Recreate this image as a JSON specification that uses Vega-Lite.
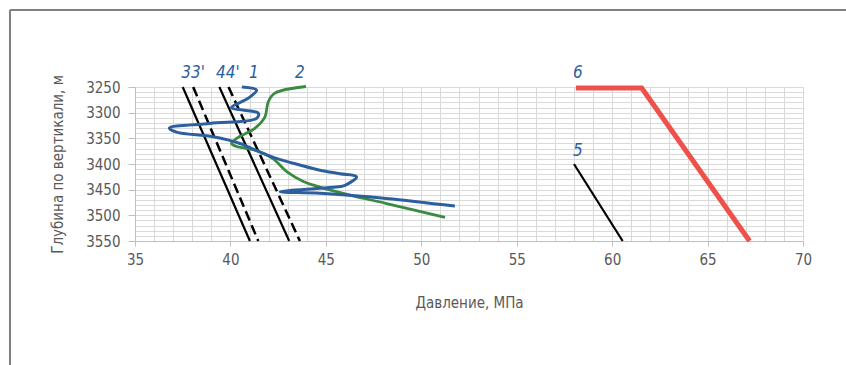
{
  "$schema": "https://vega.github.io/schema/vega-lite/v6.json",
  "width": 668,
  "height": 154,
  "autosize": {"type": "none"},
  "padding": {"left": 135, "top": 87, "right": 43, "bottom": 124},
  "background": "white",
  "config": {
    "view": {"stroke": null},
    "font": "DejaVu Sans Condensed, sans-serif",
    "axis": {
      "labelFont": "DejaVu Sans Condensed, sans-serif",
      "titleFont": "DejaVu Sans Condensed, sans-serif",
      "labelColor": "#595959",
      "titleColor": "#595959",
      "labelFontSize": 15,
      "titleFontSize": 15,
      "titleFontWeight": "normal",
      "labelOverlap": false,
      "labelFlush": false,
      "domainColor": "#bfbfbf",
      "tickColor": "#bfbfbf",
      "gridColor": "#d9d9d9",
      "gridWidth": 1
    }
  },
  "datasets": {
    "lines": [
      {"s": "3", "o": 1, "x": 37.5, "y": 3250},
      {"s": "3", "o": 2, "x": 41.02, "y": 3550},
      {"s": "3'", "o": 1, "x": 38.05, "y": 3250},
      {"s": "3'", "o": 2, "x": 41.46, "y": 3550},
      {"s": "4", "o": 1, "x": 39.42, "y": 3250},
      {"s": "4", "o": 2, "x": 43.08, "y": 3550},
      {"s": "4'", "o": 1, "x": 39.9, "y": 3250},
      {"s": "4'", "o": 2, "x": 43.64, "y": 3550},
      {"s": "5", "o": 1, "x": 58.0, "y": 3400},
      {"s": "5", "o": 2, "x": 60.55, "y": 3550},
      {"s": "6", "o": 1, "x": 58.1, "y": 3252},
      {"s": "6", "o": 2, "x": 61.55, "y": 3252},
      {"s": "6", "o": 3, "x": 67.2, "y": 3550},
      {"s": "1", "o": 1, "x": 40.6, "y": 3250},
      {"s": "1", "o": 2, "x": 41.37, "y": 3256},
      {"s": "1", "o": 3, "x": 40.93, "y": 3272},
      {"s": "1", "o": 4, "x": 40.06, "y": 3290},
      {"s": "1", "o": 5, "x": 41.46, "y": 3301},
      {"s": "1", "o": 6, "x": 41.37, "y": 3311},
      {"s": "1", "o": 7, "x": 38.93, "y": 3321},
      {"s": "1", "o": 8, "x": 36.8, "y": 3330},
      {"s": "1", "o": 9, "x": 37.18, "y": 3338},
      {"s": "1", "o": 10, "x": 39.1, "y": 3347},
      {"s": "1", "o": 11, "x": 40.5, "y": 3360},
      {"s": "1", "o": 12, "x": 41.5, "y": 3376},
      {"s": "1", "o": 13, "x": 42.4, "y": 3389},
      {"s": "1", "o": 14, "x": 43.64, "y": 3402},
      {"s": "1", "o": 15, "x": 44.69, "y": 3412},
      {"s": "1", "o": 16, "x": 45.74, "y": 3419},
      {"s": "1", "o": 17, "x": 46.61, "y": 3425},
      {"s": "1", "o": 18, "x": 46.03, "y": 3441},
      {"s": "1", "o": 19, "x": 45.74, "y": 3444},
      {"s": "1", "o": 20, "x": 42.6, "y": 3454},
      {"s": "1", "o": 21, "x": 44.69, "y": 3457},
      {"s": "1", "o": 22, "x": 48.16, "y": 3467},
      {"s": "1", "o": 23, "x": 51.76, "y": 3482},
      {"s": "2", "o": 1, "x": 43.96, "y": 3249},
      {"s": "2", "o": 2, "x": 42.33, "y": 3262},
      {"s": "2", "o": 3, "x": 41.98, "y": 3279},
      {"s": "2", "o": 4, "x": 41.81, "y": 3308},
      {"s": "2", "o": 5, "x": 41.29, "y": 3330},
      {"s": "2", "o": 6, "x": 40.33, "y": 3350},
      {"s": "2", "o": 7, "x": 40.06, "y": 3360},
      {"s": "2", "o": 8, "x": 40.33, "y": 3366},
      {"s": "2", "o": 9, "x": 41.29, "y": 3373},
      {"s": "2", "o": 10, "x": 42.24, "y": 3390},
      {"s": "2", "o": 11, "x": 42.95, "y": 3415},
      {"s": "2", "o": 12, "x": 43.82, "y": 3434},
      {"s": "2", "o": 13, "x": 44.69, "y": 3445},
      {"s": "2", "o": 14, "x": 46.43, "y": 3462},
      {"s": "2", "o": 15, "x": 48.18, "y": 3477},
      {"s": "2", "o": 16, "x": 51.24, "y": 3504}
    ],
    "labels": [
      {"t": "33'", "x": 38.04, "y": 3222},
      {"t": "44'", "x": 39.87, "y": 3222},
      {"t": "1", "x": 41.23, "y": 3222},
      {"t": "2", "x": 43.64, "y": 3222},
      {"t": "6", "x": 58.21, "y": 3222},
      {"t": "5", "x": 58.21, "y": 3374}
    ],
    "frame": [
      {"x": 28.45, "x2": 72.5, "y": 3100, "y2": 3100},
      {"x": 28.45, "x2": 28.45, "y": 3100, "y2": 3800}
    ]
  },
  "resolve": {"axis": {"x": "independent", "y": "independent"}},
  "layer": [
    {
      "data": {"name": "frame"},
      "mark": {"type": "rule", "clip": false, "color": "#808080", "strokeWidth": 2},
      "encoding": {
        "x": {"field": "x", "type": "quantitative", "scale": {"domain": [35, 70], "nice": false, "zero": false},
          "axis": {"orient": "top", "values": [35,36,37,38,39,40,41,42,43,44,45,46,47,48,49,50,51,52,53,54,55,56,57,58,59,60,61,62,63,64,65,66,67,68,69,70], "grid": true, "labels": false, "ticks": false, "domain": false, "title": null}},
        "x2": {"field": "x2"},
        "y": {"field": "y", "type": "quantitative", "scale": {"domain": [3250, 3550], "reverse": true, "nice": false, "zero": false},
          "axis": {"orient": "right", "values": [3250,3260,3270,3280,3290,3300,3310,3320,3330,3340,3350,3360,3370,3380,3390,3400,3410,3420,3430,3440,3450,3460,3470,3480,3490,3500,3510,3520,3530,3540,3550], "grid": true, "labels": false, "ticks": false, "domain": false, "title": null}},
        "y2": {"field": "y2"}
      }
    },
    {
      "data": {"name": "lines"},
      "transform": [{"filter": "datum.s === '3' || datum.s === '4' || datum.s === '5'"}],
      "mark": {"type": "line", "color": "black", "strokeWidth": 2.2},
      "encoding": {
        "x": {"field": "x", "type": "quantitative", "axis": null},
        "y": {"field": "y", "type": "quantitative", "axis": null},
        "detail": {"field": "s"},
        "order": {"field": "o"}
      }
    },
    {
      "data": {"name": "lines"},
      "transform": [{"filter": "datum.s === \"3'\" || datum.s === \"4'\""}],
      "mark": {"type": "line", "color": "black", "strokeWidth": 2.5, "strokeDash": [10, 5]},
      "encoding": {
        "x": {"field": "x", "type": "quantitative", "axis": null},
        "y": {"field": "y", "type": "quantitative", "axis": null},
        "detail": {"field": "s"},
        "order": {"field": "o"}
      }
    },
    {
      "data": {"name": "lines"},
      "transform": [{"filter": "datum.s === '2'"}],
      "mark": {"type": "line", "color": "#3a8b40", "strokeWidth": 2.8, "interpolate": "catmull-rom"},
      "encoding": {
        "x": {"field": "x", "type": "quantitative", "axis": null},
        "y": {"field": "y", "type": "quantitative", "axis": null},
        "order": {"field": "o"}
      }
    },
    {
      "data": {"name": "lines"},
      "transform": [{"filter": "datum.s === '1'"}],
      "mark": {"type": "line", "color": "#2c5f9e", "strokeWidth": 3, "interpolate": "catmull-rom"},
      "encoding": {
        "x": {"field": "x", "type": "quantitative", "axis": null},
        "y": {"field": "y", "type": "quantitative", "axis": null},
        "order": {"field": "o"}
      }
    },
    {
      "data": {"name": "lines"},
      "transform": [{"filter": "datum.s === '6'"}],
      "mark": {"type": "line", "color": "#f0504a", "strokeWidth": 5},
      "encoding": {
        "x": {"field": "x", "type": "quantitative", "axis": null},
        "y": {"field": "y", "type": "quantitative", "axis": null},
        "order": {"field": "o"}
      }
    },
    {
      "data": {"name": "labels"},
      "mark": {"type": "text", "clip": false, "color": "#2c5f9e", "fontSize": 17, "fontStyle": "italic", "align": "center", "baseline": "middle"},
      "encoding": {
        "x": {"field": "x", "type": "quantitative", "title": "Давление, МПа",
          "axis": {"orient": "bottom", "values": [35,40,45,50,55,60,65,70], "format": "d", "grid": false, "labelOverlap": false, "labelFlush": false, "tickSize": 5, "labelPadding": 6, "titlePadding": 28}},
        "y": {"field": "y", "type": "quantitative", "title": "Глубина по вертикали, м",
          "axis": {"orient": "left", "values": [3250,3300,3350,3400,3450,3500,3550], "format": "d", "grid": false, "labelOverlap": false, "labelFlush": false, "tickSize": 7, "labelPadding": 8, "titlePadding": 20}},
        "text": {"field": "t"}
      }
    }
  ]
}
